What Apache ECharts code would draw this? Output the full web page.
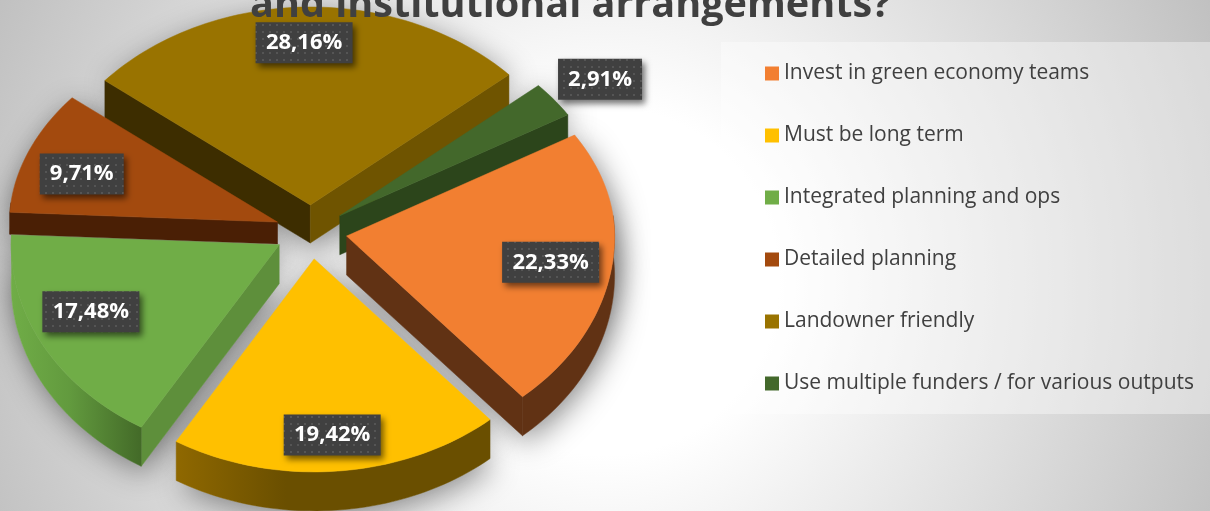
<!DOCTYPE html>
<html><head><meta charset="utf-8">
<style>html,body{margin:0;padding:0;background:#fff}#c{width:1210px;height:511px}</style>
<script src="https://cdn.jsdelivr.net/npm/echarts@6/dist/echarts.min.js"></script>
</head><body><div id="c"></div>
<script>
const titleText = 'and institutional arrangements?';
const categories = ['Invest in green economy teams','Must be long term','Integrated planning and ops','Detailed planning','Landowner friendly','Use multiple funders / for various outputs'];
const shareValues = [22.33,19.42,17.48,9.71,28.16,2.91];
const topColors = ['#f27f31','#ffc000','#70ad47','#a34a0e','#997300','#43682b'];
const startWall = ['#613214','#6a4f00','#5e8f3b','#4a1f05','#3d2d00','#2c451b'];
const endWall = ['#613214','#6a4f00','#5e8f3b','#4a1f05','#6f5400','#2c451b'];
const outerWall = [
  [['#613214',0],['#613214',1]],
  [['#8f6800',0],['#6a4f00',0.35],['#6a4f00',1]],
  [['#70ad47',0],['#629a3e',0.45],['#436a28',1]],
  [['#4a1f05',0],['#4a1f05',1]],
  [['#3d2d00',0],['#6f5400',1]],
  [['#2c451b',0],['#2c451b',1]]
];
const drawZ = [5,7,4,3,1,2];
const wallDepth = [39,39,39,22,38,39];
const viewNudge = [0,0.3,2.4,1.5,3.5,0,0];
const labelReach = [[0.77,0.82],[0.77,0.83],[0.796,0.67],[0.785,0.69],[1.2,0.82],[1.215,1.175]];

const PIE = {cx:311,cy:232,rx:268,down:213,explodeX:36,explodeY:27,start:-31.7};
const total = shareValues.reduce((a,b)=>a+b,0);
function sweep(i){
  let before = 0; for(let k=0;k<i;k++) before += shareValues[k];
  const a0 = PIE.start + before/total*360 + viewNudge[i];
  const a1 = PIE.start + (before+shareValues[i])/total*360 + viewNudge[i+1];
  return [a0,a1];
}
function centre(i){
  const [a0,a1]=sweep(i), m=(a0+a1)/2*Math.PI/180;
  return [PIE.cx+PIE.explodeX*Math.cos(m), PIE.cy+PIE.explodeY*Math.sin(m)];
}
function radiusY(s){ return s>0 ? PIE.down : 186+12*Math.abs(s); }
function rim(c,deg,dy){
  const t=deg*Math.PI/180, s=Math.sin(t);
  return [c[0]+PIE.rx*Math.cos(t), c[1]+radiusY(s)*s+(dy||0)];
}
function arc(i,dy){
  const [a0,a1]=sweep(i), c=centre(i), n=Math.max(6,Math.round((a1-a0)/1.5)), out=[];
  for(let k=0;k<=n;k++) out.push(rim(c,a0+(a1-a0)*k/n,dy));
  return out;
}
function frontArc(i,dy){
  const [a0,a1]=sweep(i), c=centre(i), n=Math.max(6,Math.round((a1-a0)/1.5)), out=[];
  for(let k=0;k<=n;k++){
    const deg=a0+(a1-a0)*k/n;
    if(Math.sin(deg*Math.PI/180)>-0.12) out.push(rim(c,deg,dy));
  }
  return out;
}
function grad(stops){
  return new echarts.graphic.LinearGradient(0,0,1,0,stops.map(s=>({offset:s[1],color:s[0]})));
}
function sliceItem(i){
  return function(params,api){
    const c=centre(i), d=wallDepth[i], top=arc(i,0);
    const a=top[0], b=top[top.length-1], [a0,a1]=sweep(i);
    const cLow=[c[0],c[1]+d];
    const poly=(pts,fill,z)=>({type:'polygon',z2:z,shape:{points:pts},style:{fill:fill,stroke:fill,lineWidth:0.5}});
    const kids=[];
    if(Math.sin((a0-90)*Math.PI/180)>0) kids.push(poly([c,a,[a[0],a[1]+d],cLow],startWall[i],1));
    if(Math.sin((a1+90)*Math.PI/180)>0) kids.push(poly([c,b,[b[0],b[1]+d],cLow],endWall[i],1));
    const fTop=frontArc(i,0), fLow=frontArc(i,d);
    if(fTop.length>1) kids.push(poly(fTop.concat(fLow.slice().reverse()),grad(outerWall[i]),2));
    kids.push(poly([c].concat(top),topColors[i],3));
    return {type:'group',children:kids};
  };
}
function shadowItem(params,api){
  const i=params.dataIndex, c=centre(i), d=wallDepth[i];
  const top=arc(i,0), low=arc(i,d);
  const s={fill:'#c8c8c8',shadowBlur:30,shadowColor:'rgba(0,0,0,0.42)',shadowOffsetX:4,shadowOffsetY:7};
  return {type:'group',children:[
    {type:'polygon',shape:{points:[c].concat(top)},style:s},
    {type:'polygon',shape:{points:[[c[0],c[1]+d]].concat(low)},style:s}
  ]};
}
let dotPattern=null;
function pattern(){
  if(dotPattern) return dotPattern;
  const cv=document.createElement('canvas'); cv.width=7; cv.height=7;
  const x=cv.getContext('2d'); x.fillStyle='#404040'; x.fillRect(0,0,7,7);
  x.fillStyle='#555555'; x.fillRect(3,3,2,2);
  dotPattern={image:cv,repeat:'repeat'};
  return dotPattern;
}
function labelItem(params,api){
  const i=params.dataIndex, v=api.value(0), [a0,a1]=sweep(i), m=(a0+a1)/2*Math.PI/180, c=centre(i);
  const s=Math.sin(m);
  const x=c[0]+PIE.rx*labelReach[i][0]*Math.cos(m);
  const y=c[1]+radiusY(s)*labelReach[i][1]*s;
  const txt=v.toFixed(2).replace('.',',')+'%';
  const w=txt.length>5?97:84, h=41;
  return {type:'group',children:[
    {type:'rect',shape:{x:x-w/2,y:y-h/2,width:w,height:h},
     style:{fill:pattern(),shadowBlur:6,shadowColor:'rgba(0,0,0,0.55)',shadowOffsetX:3,shadowOffsetY:4}},
    {type:'text',style:{x:x,y:y,text:txt,fill:'#fff',align:'center',verticalAlign:'middle',
      font:'bold 22px "Open Sans"'}}
  ]};
}
const chart=echarts.init(document.getElementById('c'),null,{renderer:'canvas'});
const sliceSeries=categories.map((name,i)=>({
  type:'custom',name:name,coordinateSystem:'none',z:10+drawZ[i],silent:true,animation:false,
  itemStyle:{color:topColors[i]},data:[[shareValues[i]]],renderItem:sliceItem(i)
}));
chart.setOption({
  animation:false,
  backgroundColor:new echarts.graphic.RadialGradient(0.5,0.55,1.36,[
    {offset:0,color:'#ffffff'},{offset:0.25,color:'#ffffff'},{offset:1,color:'#bdbdbd'}]),
  title:{text:titleText,left:250,top:-14,padding:0,z:40,
    textStyle:{fontFamily:'Open Sans',fontWeight:'bold',fontSize:39.6,color:'#404040'}},
  legend:{show:true,orient:'vertical',left:721,top:42,padding:[21,16,20,44],
    backgroundColor:'rgba(255,255,255,0.38)',
    icon:'rect',itemWidth:14,itemHeight:14,itemGap:41,
    data:categories,selectedMode:false,
    textStyle:{fontFamily:'Open Sans',fontSize:21,color:'#404040',padding:[4,0,0,0]}},
  series:[
    {type:'custom',coordinateSystem:'none',z:2,silent:true,animation:false,name:'shadow',
     data:shareValues.map(v=>[v]),renderItem:shadowItem}
  ].concat(sliceSeries).concat([
    {type:'custom',coordinateSystem:'none',z:30,silent:true,animation:false,name:'labels',
     data:shareValues.map(v=>[v]),renderItem:labelItem}
  ])
});
</script></body></html>
